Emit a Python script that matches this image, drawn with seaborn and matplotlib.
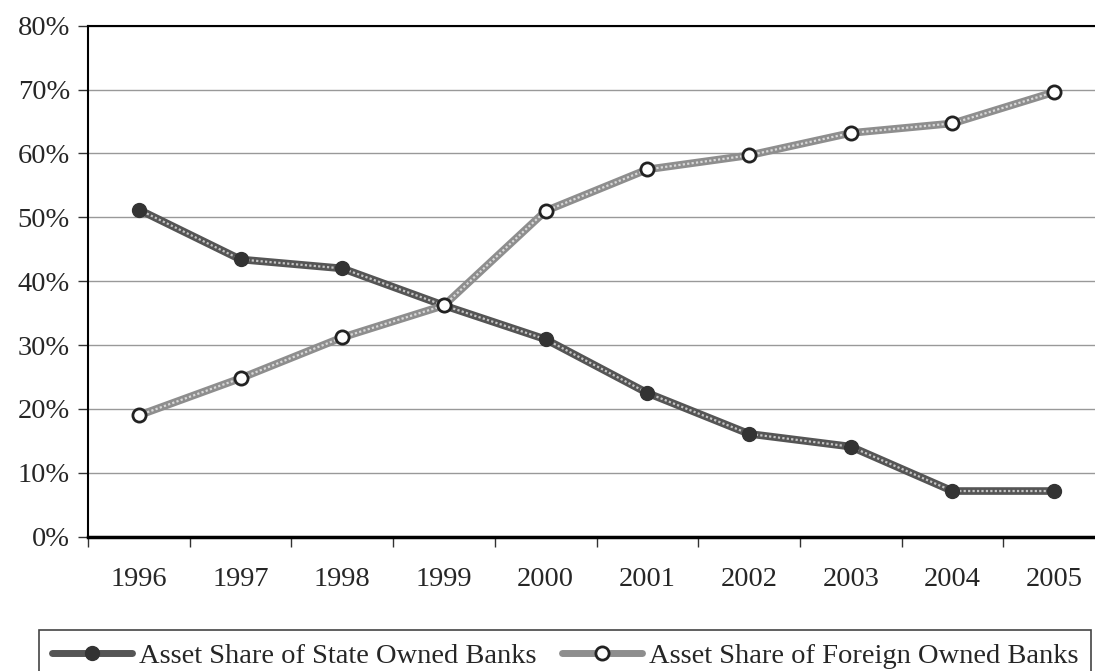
import matplotlib
matplotlib.use("Agg")
import matplotlib.pyplot as plt
import seaborn as sns
import pandas as pd
from matplotlib.lines import Line2D
from matplotlib.ticker import FuncFormatter, FixedLocator

years = ["1996", "1997", "1998", "1999", "2000", "2001", "2002", "2003", "2004", "2005"]
state_share = [51.2, 43.4, 42.0, 36.2, 30.9, 22.5, 16.1, 14.1, 7.15, 7.15]
foreign_share = [19.0, 24.8, 31.2, 36.2, 51.0, 57.5, 59.7, 63.2, 64.7, 69.6]
series_names = ["Asset Share of State Owned Banks", "Asset Share of Foreign Owned Banks"]
y_ticks = [0, 10, 20, 30, 40, 50, 60, 70, 80]

sns.set_style("white")
plt.rcParams["font.family"] = ["Liberation Serif", "DejaVu Serif"]

df = pd.DataFrame({
    "pos": list(range(len(years))) * 2,
    "value": state_share + foreign_share,
    "series": [series_names[0]] * len(years) + [series_names[1]] * len(years),
})

fig = plt.figure(figsize=(10.95, 6.71), dpi=100)
ax = fig.add_axes([88 / 1095, 134.3 / 671, (1105 - 88) / 1095, 0.7616])

base_colors = {series_names[0]: "#555555", series_names[1]: "#8e8e8e"}
over_colors = {series_names[0]: "#c4c4c4", series_names[1]: "#d8d8d8"}

sns.lineplot(data=df, x="pos", y="value", hue="series", palette=base_colors,
             linewidth=5.5, legend=False, ax=ax, zorder=3)
for name in series_names:
    sub = df[df["series"] == name]
    ax.plot(sub["pos"], sub["value"], color=over_colors[name], lw=1.6,
            dashes=(1.0, 1.0), zorder=4, solid_capstyle="butt")

sub = df[df["series"] == series_names[0]]
ax.plot(sub["pos"], sub["value"], ls="none", marker="o", ms=10,
        mfc="#333333", mec="#333333", zorder=6)
sub = df[df["series"] == series_names[1]]
ax.plot(sub["pos"], sub["value"], ls="none", marker="o", ms=9.5,
        mfc="white", mec="#222222", mew=2, zorder=6)

ax.set_xlim(-0.5, 9.5)
ax.set_ylim(0, 80)
ax.yaxis.set_major_locator(FixedLocator(y_ticks))
ax.yaxis.set_major_formatter(FuncFormatter(lambda v, p: f"{int(v)}%"))
ax.set_xticks(range(len(years)))
ax.set_xticklabels(years)
ax.xaxis.set_minor_locator(FixedLocator([i - 0.5 for i in range(len(years) + 1)]))
ax.tick_params(axis="x", which="major", length=0, pad=22, labelsize=20.5)
ax.tick_params(axis="x", which="minor", length=7, width=1, color="#333333", direction="out", bottom=True)
ax.tick_params(axis="y", length=7, width=1, color="#333333", direction="out", pad=6, labelsize=20.5, left=True)
ax.set_xlabel("")
ax.set_ylabel("")

ax.grid(axis="y", color="#999999", lw=1)
ax.grid(axis="x", visible=False)
ax.set_axisbelow(True)
for s in ["left", "bottom", "top"]:
    ax.spines[s].set_visible(True)
    ax.spines[s].set_color("black")
ax.spines["left"].set_linewidth(1.5)
ax.spines["bottom"].set_linewidth(2.5)
ax.spines["top"].set_linewidth(1.5)
ax.spines["right"].set_visible(False)

handles = [
    Line2D([], [], color=base_colors[series_names[0]], lw=5, marker="o", ms=10,
           mfc="#333333", mec="#333333"),
    Line2D([], [], color=base_colors[series_names[1]], lw=5, marker="o", ms=9.5,
           mfc="white", mec="#222222", mew=2),
]
leg = fig.legend(handles, series_names, loc="upper center", bbox_to_anchor=(0.516, 1 - 630 / 671),
                 ncol=2, frameon=True, fancybox=False, edgecolor="#444444", fontsize=20.5,
                 handlelength=2.8, handletextpad=0.25, columnspacing=0.9, borderpad=0.45,
                 borderaxespad=0, framealpha=1)
leg.get_frame().set_linewidth(1.2)

fig.savefig("out.png", dpi=100)
